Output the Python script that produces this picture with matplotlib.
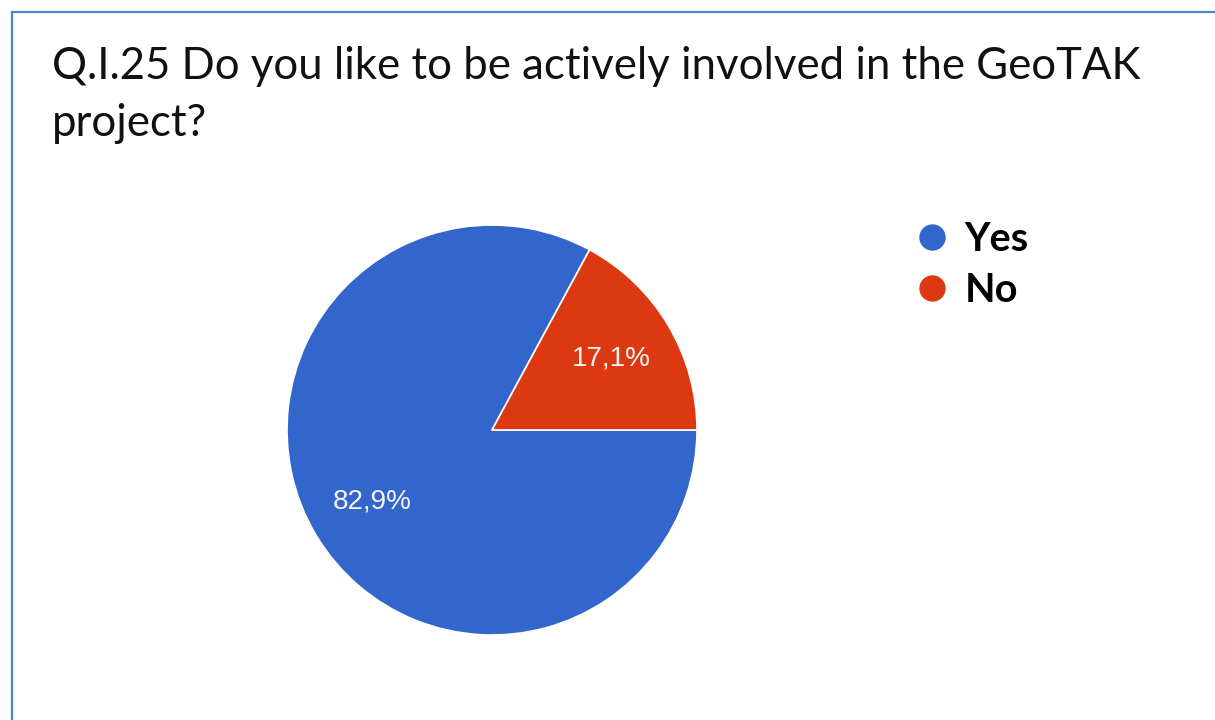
import matplotlib
matplotlib.use('Agg')
import matplotlib.pyplot as plt
from matplotlib.lines import Line2D
import numpy as np

# dati del sondaggio
categorie = ['Yes', 'No']
percentuali = [82.9, 17.1]
colori = ['#3366cc', '#dc3912']
etichette = ['82,9%', '17,1%']
titolo = 'Q.I.25 Do you like to be actively involved in the GeoTAK\nproject?'

W, H = 1215, 720
fig = plt.figure(figsize=(W / 100, H / 100), dpi=100)
fig.patch.set_facecolor('white')

# cornice blu (solo lato sinistro e superiore)
fig.add_artist(Line2D([12 / W, 12 / W], [0, 1 - 12 / H], color='#4a86c8', lw=1.6))
fig.add_artist(Line2D([12 / W, 1], [1 - 12 / H, 1 - 12 / H], color='#4a86c8', lw=1.6))

# titolo
fig.text(52 / W, 1 - 46 / H, titolo, ha='left', va='top', fontsize=31.5,
         family='Lato', color='#111111', linespacing=1.5)

# torta
cx, cy, r = 492, 430, 205
ax = fig.add_axes([(cx - r) / W, (H - cy - r) / H, 2 * r / W, 2 * r / H])
start = 360 * percentuali[1] / 100
wedges, _ = ax.pie(percentuali, colors=colori, startangle=start, counterclock=True,
                   radius=1, wedgeprops=dict(edgecolor='white', linewidth=1.2))
for w, et in zip(wedges, etichette):
    ang = np.deg2rad((w.theta1 + w.theta2) / 2)
    ax.text(0.68 * np.cos(ang), 0.68 * np.sin(ang), et, ha='center', va='center',
            fontsize=20, family='Liberation Sans', color='#f4f4f4')
ax.set_xlim(-1, 1)
ax.set_ylim(-1, 1)
ax.set_aspect('equal')
ax.axis('off')

# legenda
handles = [Line2D([], [], marker='o', ls='', markersize=18, color=c) for c in colori]
fig.legend(handles, categorie, loc='upper left', bbox_to_anchor=(895 / W, 1 - 201 / H),
           frameon=False, prop=dict(family='Lato', weight='bold', size=28.5),
           handletextpad=0.4, labelspacing=0.36, borderpad=0, handlelength=0.85)

fig.savefig('out.png', dpi=100)
